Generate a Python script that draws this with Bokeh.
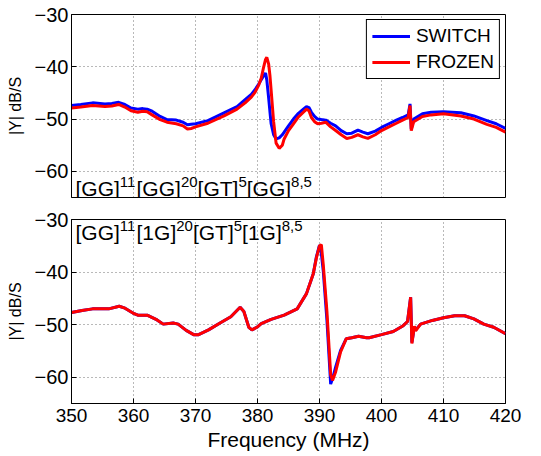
from bokeh.plotting import figure
from bokeh.layouts import column
from bokeh.models import Label, Range1d, FixedTicker
from bokeh.embed import file_html
from bokeh.resources import INLINE

# ---------------- data ----------------
x_ticks = [350, 360, 370, 380, 390, 400, 410, 420]
y_ticks = [-60, -50, -40, -30]
series_names = ["SWITCH", "FROZEN"]
top_label = [("[GG]", False), ("11", True), ("[GG]", False), ("20", True),
             ("[GT]", False), ("5", True), ("[GG]", False), ("8,5", True)]
bot_label = [("[GG]", False), ("11", True), ("[1G]", False), ("20", True),
             ("[GT]", False), ("5", True), ("[1G]", False), ("8,5", True)]

top_freq = [350.0, 351.5, 353.4, 355.4, 356.5, 357.6, 358.6, 359.6, 360.7, 361.5,
            362.2, 363.0, 364.3, 365.4, 366.9, 368.0, 368.7, 369.3, 370.0, 372.0,
            374.6, 376.7, 378.0, 379.0, 379.6, 380.2, 380.6, 381.0, 381.3, 381.5,
            381.8, 382.0, 382.2, 382.6, 383.0, 383.5, 384.0, 384.3, 385.0, 385.8,
            386.6, 387.4, 387.9, 388.3, 388.7, 389.2, 389.7, 390.3, 391.0, 391.8,
            392.6, 393.5, 394.4, 395.2, 396.2, 397.0, 397.8, 399.0, 400.0, 401.2,
            402.4, 403.4, 404.3, 404.6, 404.8, 405.2, 406.6, 408.0, 410.0, 412.8,
            414.9, 417.0, 418.5, 420.0]
top_switch = [-47.4, -47.2, -46.9, -47.1, -47.0, -46.8, -47.2, -47.9, -48.1, -48.0,
              -48.1, -48.5, -49.5, -50.1, -50.2, -50.6, -51.1, -51.0, -50.9, -50.3,
              -48.8, -47.6, -46.3, -45.3, -44.4, -43.3, -42.5, -41.7, -41.2, -42.5,
              -46.0, -48.5, -50.9, -53.0, -53.8, -53.6, -53.0, -52.5, -51.3, -50.0,
              -48.9, -48.1, -47.6, -47.8, -48.7, -49.5, -50.0, -50.1, -50.2, -50.8,
              -51.3, -52.2, -52.8, -52.7, -52.1, -52.5, -52.8, -52.3, -51.6, -50.9,
              -50.2, -49.7, -49.2, -47.1, -51.9, -50.0, -49.0, -48.7, -48.6, -48.8,
              -49.4, -50.3, -50.9, -51.8]
top_frozen = [-47.9, -47.7, -47.4, -47.6, -47.5, -47.2, -47.7, -48.4, -48.7, -48.5,
              -48.6, -49.2, -50.1, -50.6, -50.9, -51.3, -51.9, -51.8, -51.5, -50.8,
              -49.4, -48.1, -46.9, -45.8, -44.9, -43.5, -42.2, -40.0, -38.6, -38.2,
              -39.5, -41.6, -44.5, -50.5, -54.6, -55.6, -55.0, -53.8, -52.2, -50.9,
              -49.6, -48.7, -48.1, -48.4, -49.7, -50.5, -50.9, -50.8, -50.6, -51.5,
              -52.2, -53.0, -53.7, -53.5, -53.0, -53.4, -53.7, -53.0, -52.2, -51.5,
              -50.8, -50.2, -49.7, -47.4, -52.2, -50.5, -49.5, -49.2, -49.0, -49.4,
              -50.0, -51.0, -51.6, -52.5]

bot_freq = [350.0, 351.7, 353.4, 356.0, 357.7, 358.5, 359.9, 360.7, 362.2, 363.8,
            364.8, 366.4, 367.2, 368.5, 369.7, 370.5, 372.1, 374.1, 375.7, 377.2,
            377.8, 378.6, 379.1, 379.9, 380.6, 382.2, 384.3, 386.4, 387.9, 389.0,
            389.5, 390.0, 390.3, 390.6, 391.2, 391.8, 392.1, 392.6, 393.4, 394.3,
            395.2, 396.3, 397.6, 398.0, 400.0, 401.9, 403.5, 404.2, 404.7, 404.9,
            405.3, 405.5, 406.3, 408.2, 410.0, 411.8, 413.4, 414.9, 416.5, 418.1,
            420.0]
bot_switch = [-47.7, -47.3, -47.0, -47.0, -46.5, -46.8, -47.8, -48.2, -48.2, -49.1,
              -49.9, -49.7, -49.9, -51.1, -51.9, -51.9, -51.0, -49.6, -48.5, -46.7,
              -47.5, -50.5, -51.0, -50.5, -49.8, -49.0, -48.2, -47.0, -44.1, -40.3,
              -37.1, -34.9, -36.5, -39.7, -49.2, -61.3, -60.3, -58.1, -54.9, -52.7,
              -52.5, -52.2, -52.5, -52.5, -51.9, -51.3, -50.2, -49.4, -44.8, -53.4,
              -50.5, -51.0, -49.9, -49.2, -48.7, -48.3, -48.3, -48.9, -49.9, -50.5,
              -51.7]
bot_frozen = [-47.7, -47.3, -47.0, -47.0, -46.5, -46.8, -47.8, -48.2, -48.2, -49.1,
              -49.9, -49.7, -49.9, -51.1, -51.9, -51.9, -51.0, -49.6, -48.5, -46.7,
              -47.5, -50.5, -51.0, -50.5, -49.8, -49.0, -48.2, -47.0, -44.1, -40.3,
              -37.3, -35.0, -34.8, -38.5, -47.5, -59.5, -60.6, -59.0, -55.2, -52.7,
              -52.5, -52.2, -52.5, -52.5, -51.9, -51.3, -50.2, -49.4, -44.8, -53.6,
              -50.3, -51.2, -49.9, -49.2, -48.7, -48.3, -48.3, -48.9, -49.9, -50.5,
              -51.7]

# ---------------- styling ----------------
FONT = "Liberation Sans"
BLUE = "#0000ff"
RED = "#ff0000"
MINUS = "\u2212"
ARIAL_W = {"[": 0.278, "]": 0.278, "G": 0.778, "T": 0.611, ",": 0.278}


def text_width(s, size):
    return sum(ARIAL_W.get(ch, 0.556) for ch in s) * size


def make_fig(height, top, bottom, show_x_labels):
    p = figure(width=541, height=height, output_backend="svg", toolbar_location=None,
               x_range=Range1d(350, 420), y_range=Range1d(-65, -30),
               min_border_left=71, min_border_right=36,
               min_border_top=top, min_border_bottom=bottom)
    p.background_fill_color = "white"
    p.border_fill_color = "white"
    p.outline_line_color = "black"
    p.outline_line_width = 1
    p.outline_line_alpha = 1.0

    p.xaxis.ticker = FixedTicker(ticks=x_ticks)
    p.yaxis.ticker = FixedTicker(ticks=y_ticks)
    p.yaxis.major_label_overrides = {v: str(v).replace("-", MINUS) for v in y_ticks}
    for ax in (p.xaxis[0], p.yaxis[0]):
        ax.axis_line_color = "black"
        ax.major_tick_in = 5
        ax.major_tick_out = 0
        ax.minor_tick_line_color = None
        ax.major_label_text_font = FONT
        ax.major_label_text_font_size = "19px"
        ax.major_label_text_color = "black"
        ax.axis_label_text_font = FONT
        ax.axis_label_text_font_style = "normal"
        ax.axis_label_text_color = "black"
    p.yaxis.major_label_text_font_size = "20px"
    p.yaxis.axis_label = "|Y| dB/S"
    p.yaxis.axis_label_text_font_size = "16px"
    p.yaxis.major_label_standoff = 3
    p.yaxis.axis_label_standoff = 8
    if show_x_labels:
        p.xaxis.axis_label = "Frequency (MHz)"
        p.xaxis.axis_label_text_font_size = "21px"
        p.xaxis.major_label_standoff = 5
        p.xaxis.axis_label_standoff = 3
    else:
        p.xaxis.visible = False

    p.grid.grid_line_color = "black"
    p.grid.grid_line_alpha = 0.55
    p.grid.grid_line_dash = "1 3"
    p.grid.grid_line_width = 1
    return p


def add_label(p, parts, y, y_off, x_off=4):
    xo = x_off
    for s, sup in parts:
        size = 15 if sup else 21
        p.add_layout(Label(x=350, y=y, x_offset=xo, y_offset=y_off + (7 if sup else 0),
                           text=s, text_font=FONT, text_font_size=f"{size}px",
                           text_color="black", text_baseline="alphabetic",
                           text_align="left"))
        xo += text_width(s, size)


# ---------------- top panel ----------------
p1 = make_fig(208, 14, 11, False)
p1.line(top_freq, top_switch, line_color=BLUE, line_width=3, legend_label=series_names[0])
p1.line(top_freq, top_frozen, line_color=RED, line_width=3, legend_label=series_names[1])
lg = p1.legend[0]
lg.location = "top_right"
lg.margin = 5
lg.padding = 5
lg.spacing = 4
lg.glyph_width = 38
lg.glyph_height = 20
lg.label_height = 20
lg.label_standoff = 6
lg.label_text_font = FONT
lg.label_text_font_size = "19px"
lg.label_text_color = "black"
lg.border_line_color = "black"
lg.border_line_width = 1
lg.border_line_alpha = 1.0
lg.background_fill_alpha = 1.0
add_label(p1, top_label, -65, 9)

# ---------------- bottom panel ----------------
p2 = make_fig(248, 11, 53, True)
p2.line(bot_freq, bot_switch, line_color=BLUE, line_width=3)
p2.line(bot_freq, bot_frozen, line_color=RED, line_width=3)
add_label(p2, bot_label, -30, -13)

layout = column(p1, p2, spacing=0)
open("out.html", "w").write(file_html(layout, INLINE))
